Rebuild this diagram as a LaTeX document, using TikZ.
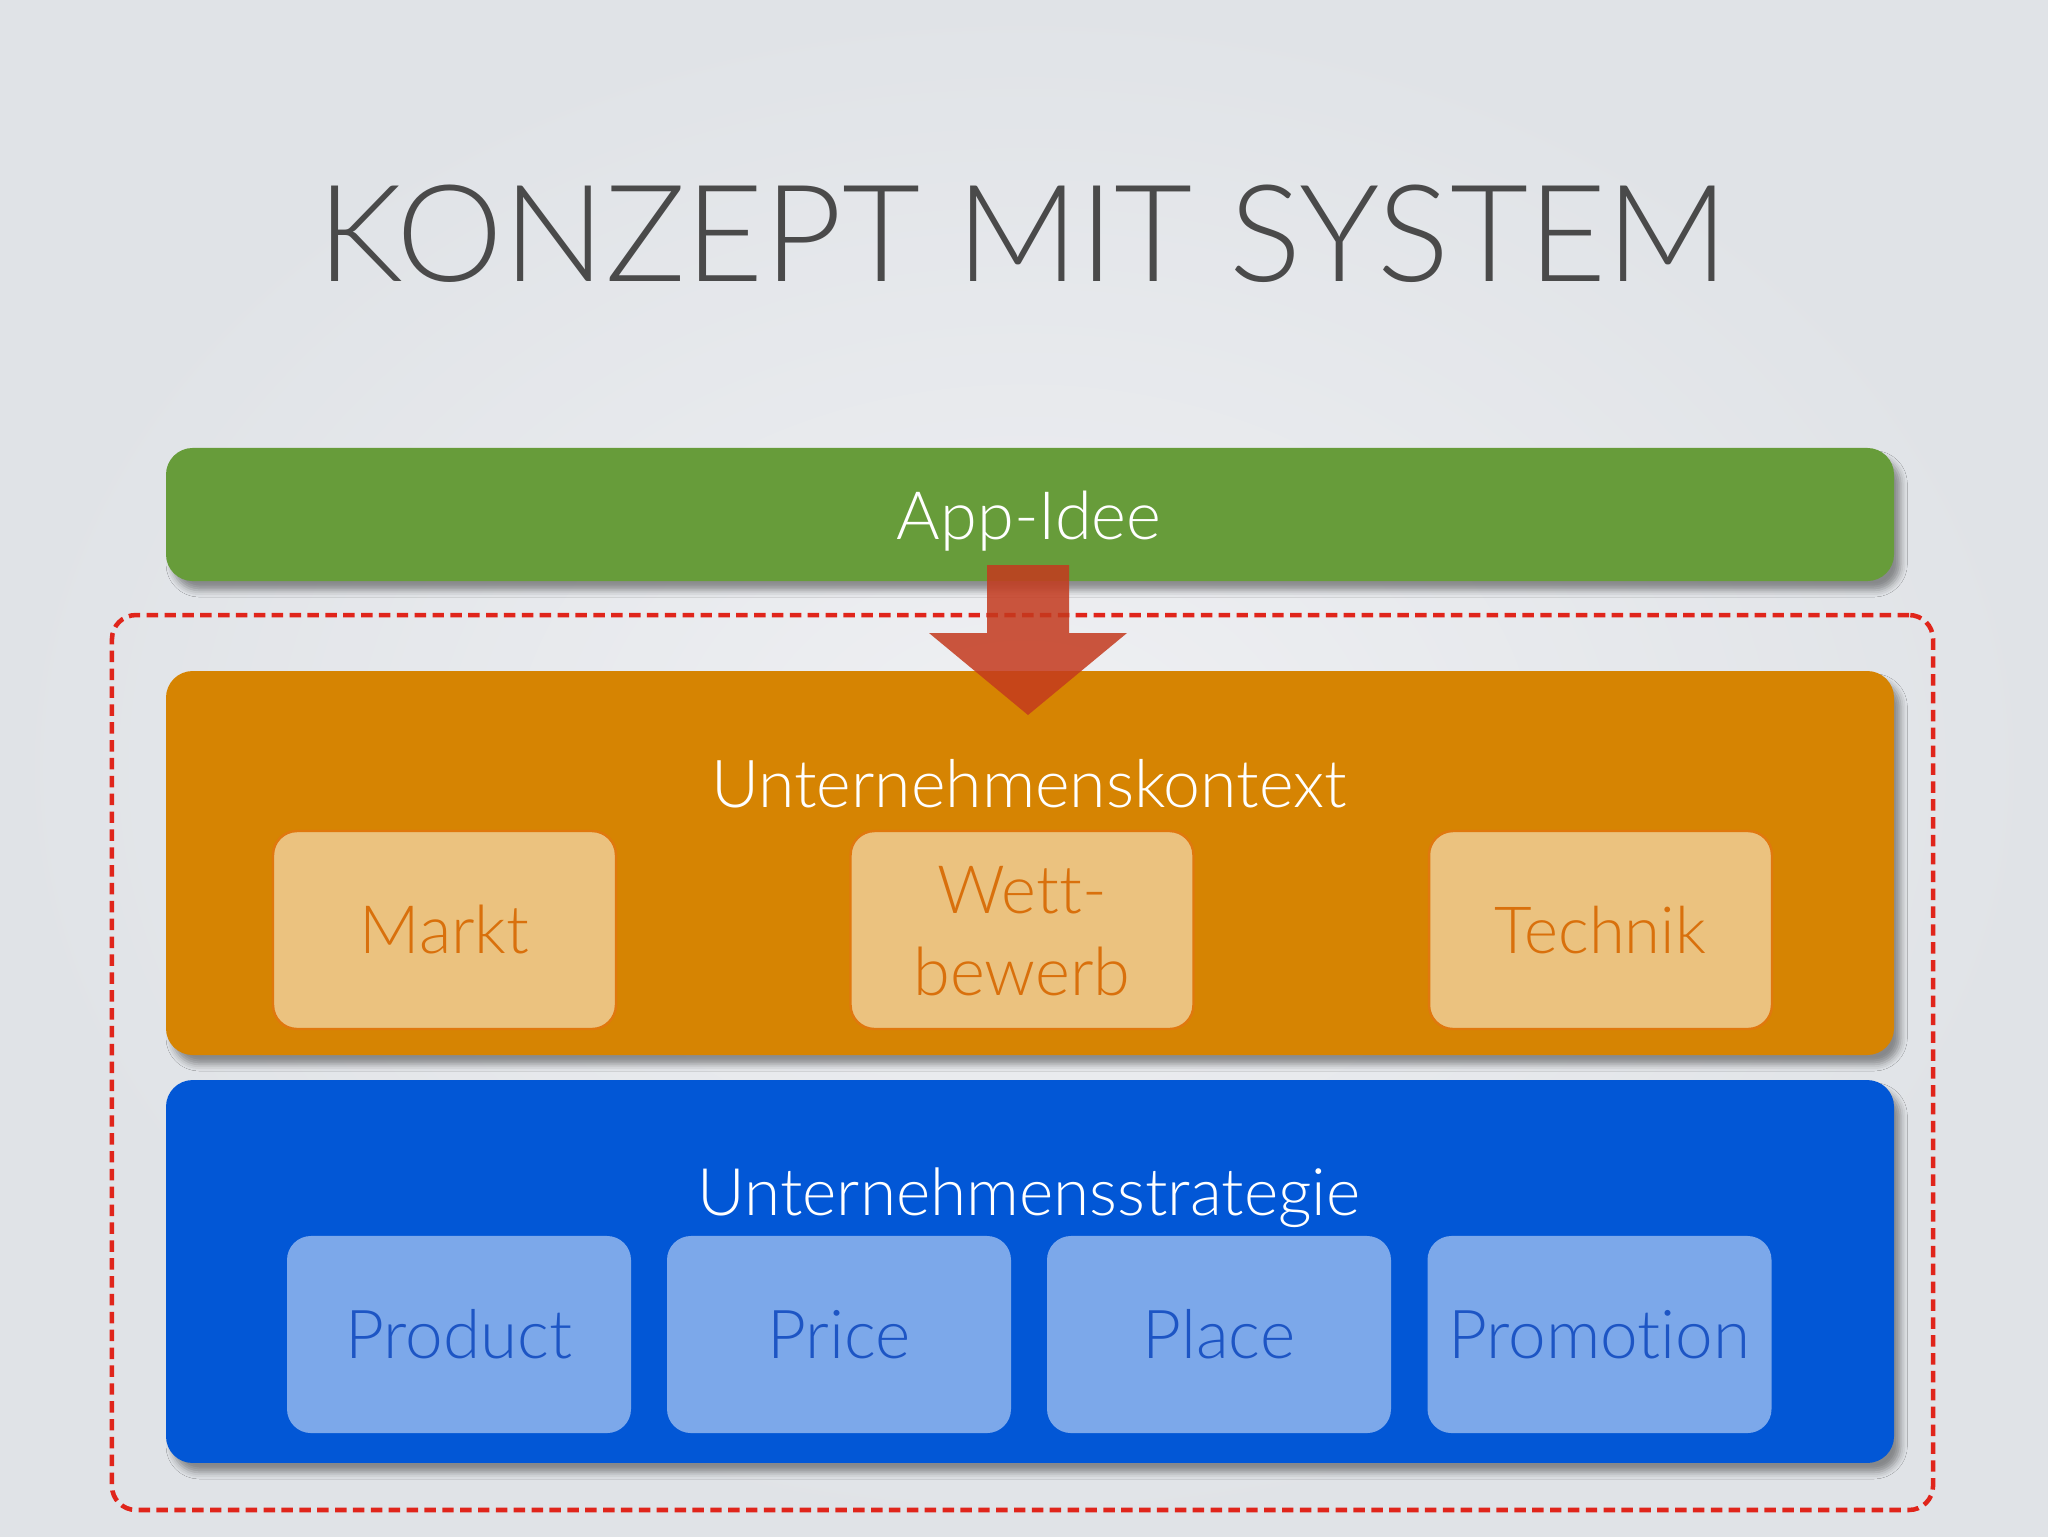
\documentclass[tikz,border=0pt]{standalone}
\usepackage{fontspec}
\setmainfont{Lato}[UprightFont={* Light}, Ligatures=NoCommon]
\usetikzlibrary{shadows.blur}
\definecolor{bgin}{HTML}{EFF0F3}
\definecolor{bgout}{HTML}{E0E3E7}
\definecolor{titlec}{HTML}{4A4A4A}
\definecolor{greenc}{HTML}{679C3A}
\definecolor{orangec}{HTML}{D68402}
\definecolor{orangelt}{HTML}{EBC27F}
\definecolor{orangebd}{HTML}{E0780E}
\definecolor{orangetx}{HTML}{D9700C}
\definecolor{bluec}{HTML}{0257D6}
\definecolor{bluelt}{HTML}{7CA8EA}
\definecolor{bluetx}{HTML}{1D55C4}
\definecolor{dashc}{HTML}{E0251B}
\definecolor{arrowc}{HTML}{C43A1E}
\tikzset{
  bar/.style={rounded corners=10pt, minimum width=648pt, inner sep=0pt, draw=none,
    blur shadow={shadow xshift=2.5pt, shadow yshift=-3.5pt, shadow blur radius=2.5pt, shadow opacity=40}},
  obox/.style={rounded corners=9pt, fill=orangelt, draw=orangebd, line width=0.9pt,
    minimum width=128.6pt, minimum height=74.25pt, inner sep=0pt},
  bbox/.style={rounded corners=9pt, fill=bluelt, draw=none,
    minimum width=129pt, minimum height=73.9pt, inner sep=0pt},
  bigtxt/.style={text=white, font=\fontsize{24.8}{30}\selectfont, anchor=base, inner sep=0pt},
  otxt/.style={text=orangetx, font=\fontsize{25}{30}\selectfont, anchor=base, inner sep=0pt},
  btxt/.style={text=bluetx, font=\fontsize{25.3}{30}\selectfont, anchor=base, inner sep=0pt},
  frame/.style={draw=dashc, line width=1.7pt, dash pattern=on 4.3pt off 2.4pt, rounded corners=9pt,
    minimum width=682.9pt, minimum height=335.6pt, inner sep=0pt}
}
\begin{document}
\begin{tikzpicture}[x=0.375pt, y=-0.375pt]
\useasboundingbox (0,0) rectangle (2048,1536);
\shade[inner color=bgin, outer color=bgout] (0,0) rectangle (2048,1536);
% title
\node[text=titlec, font=\fontsize{50.6}{60}\selectfont, anchor=base, inner sep=0pt] (title) at (1023,281) {KONZEPT MIT SYSTEM};
% dashed frame
\node[frame] (frame) at (1022.5,1062.5) {};
% bars
\node[bar, fill=greenc, minimum height=49.9pt] (idee) at (1030,514.5) {};
\node[bar, fill=orangec, minimum height=144pt] (kontext) at (1030,863) {};
\node[bar, fill=bluec, minimum height=143.6pt] (strategie) at (1030,1271.5) {};
% bar labels
\node[bigtxt, font=\fontsize{25}{30}\selectfont] (ideeT) at (1029,539) {App-Idee};
\node[bigtxt] (kontextT) at (1029,807) {Unternehmenskontext};
\node[bigtxt, font=\fontsize{24.6}{30}\selectfont] (strategieT) at (1029,1215) {Unternehmensstrategie};
% orange boxes
\node[obox] (markt) at (444.5,930) {};
\node[obox] (wett) at (1022,930) {};
\node[obox] (technik) at (1600.5,930) {};
\node[otxt] (marktT) at (444.5,953) {Markt};
\node[otxt] (wettT1) at (1022,913) {Wett-};
\node[otxt] (wettT2) at (1022,995) {bewerb};
\node[otxt, font=\fontsize{24.4}{30}\selectfont] (technikT) at (1600.5,953) {Technik};
% blue boxes
\node[bbox] (product) at (459,1334.5) {};
\node[bbox] (price) at (839,1334.5) {};
\node[bbox] (place) at (1219,1334.5) {};
\node[bbox] (promotion) at (1599.5,1334.5) {};
\node[btxt] (productT) at (459,1358) {Product};
\node[btxt] (priceT) at (839,1358) {Price};
\node[btxt] (placeT) at (1219,1358) {Place};
\node[btxt] (promotionT) at (1599.5,1358) {Promotion};
% arrow
\fill[arrowc, opacity=0.85] (987,565) -- (1069,565) -- (1069,633) -- (1127,633) -- (1028,715) -- (929,633) -- (987,633) -- cycle;
\end{tikzpicture}
\end{document}
